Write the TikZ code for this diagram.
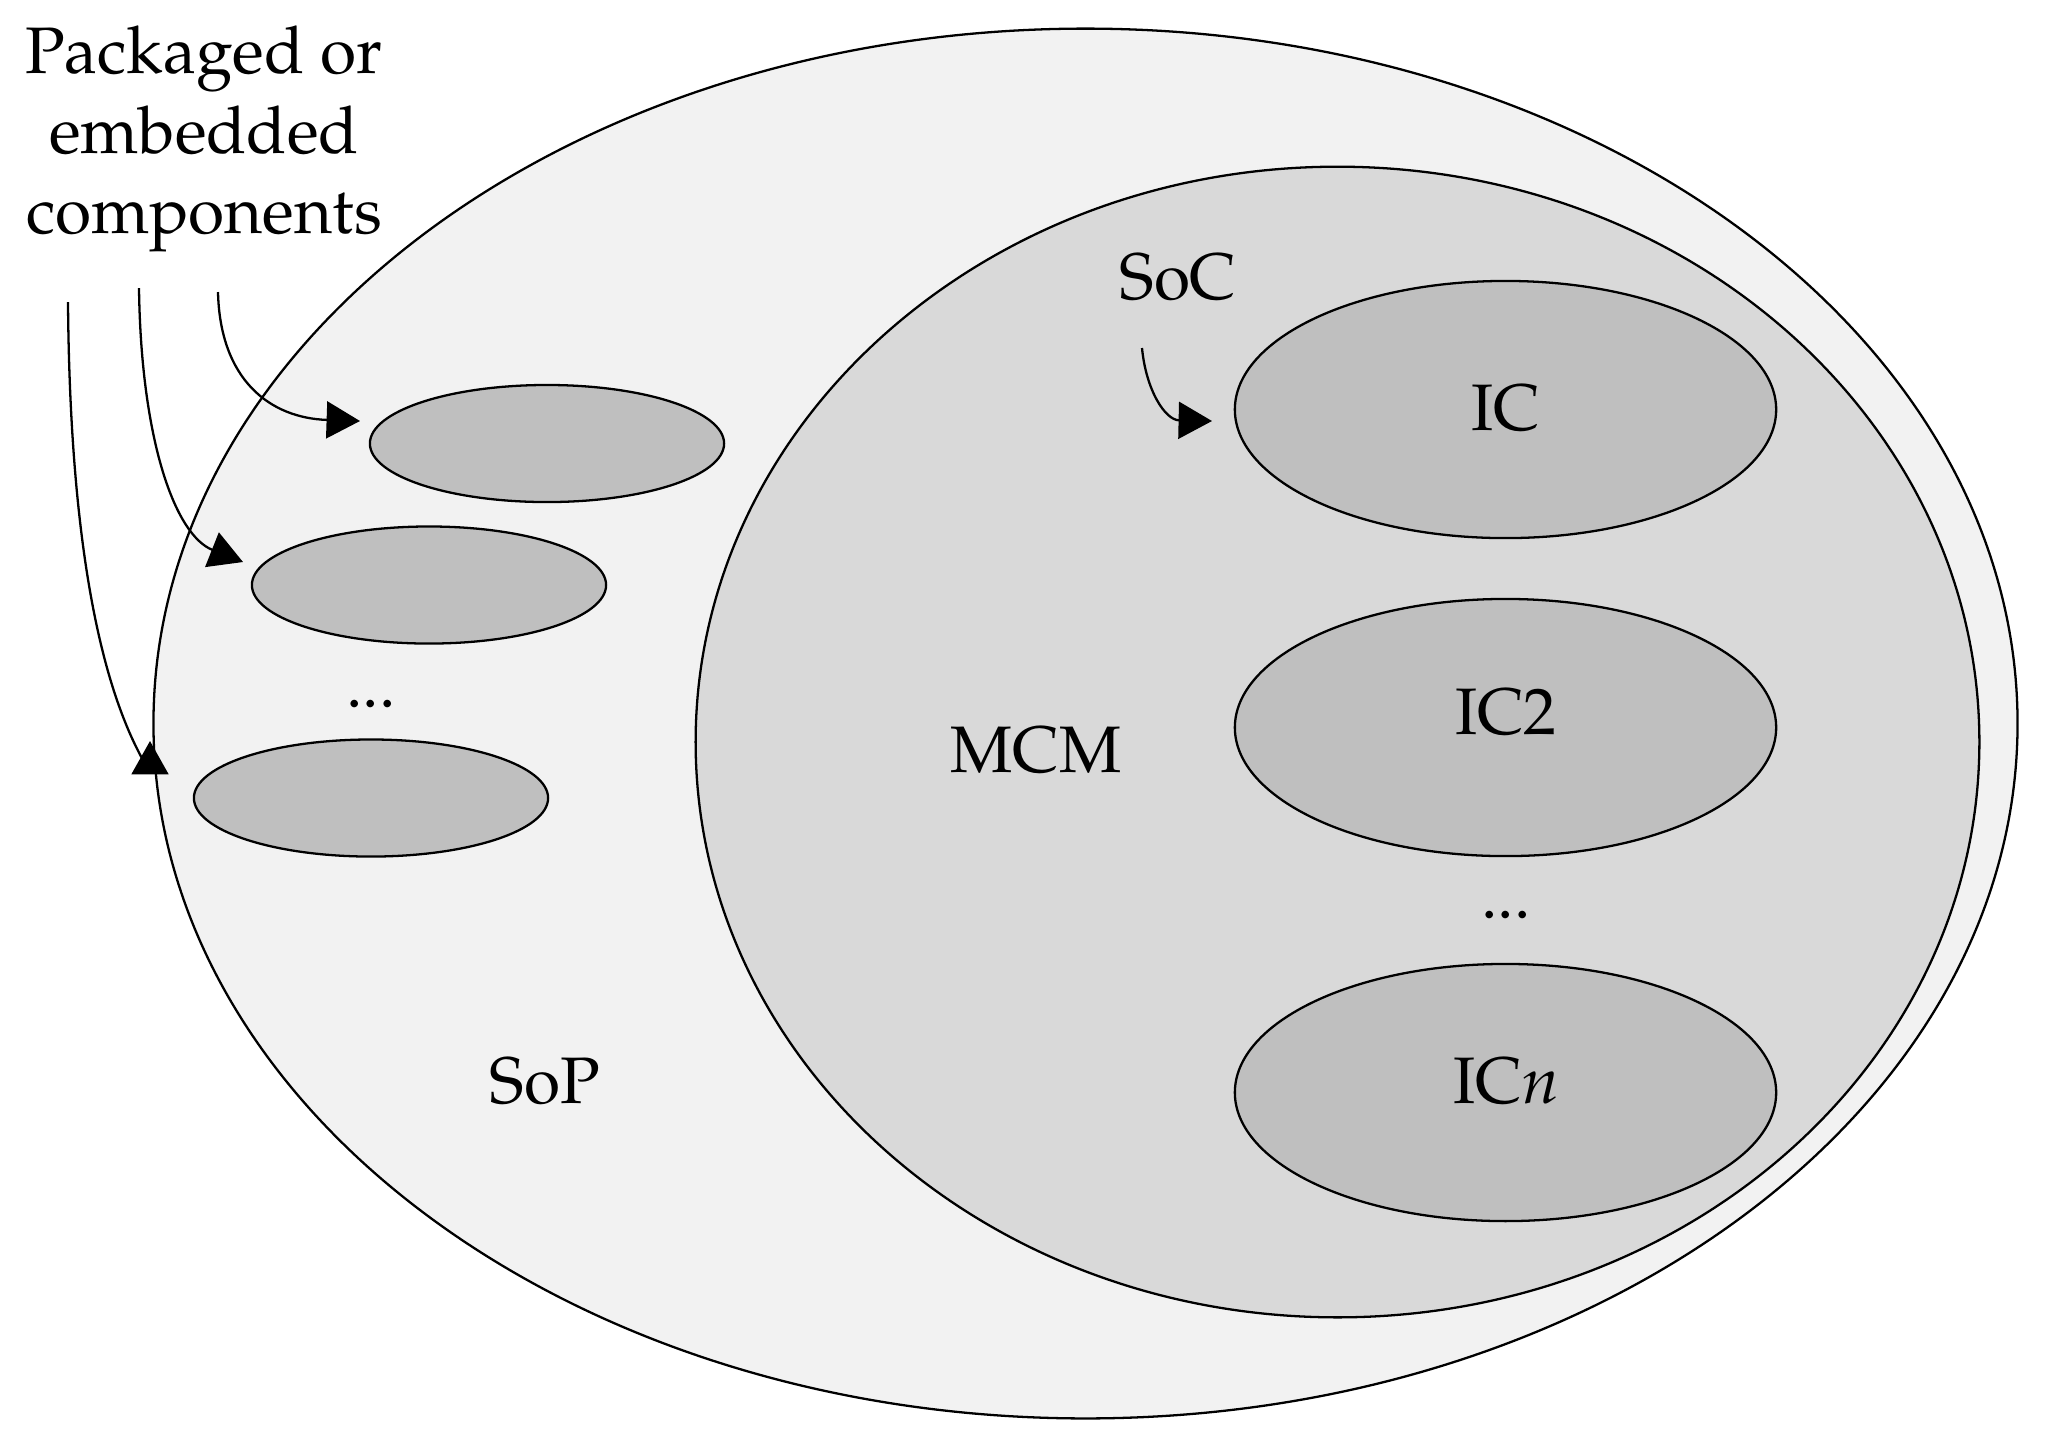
\documentclass[tikz,border=0pt]{standalone}
\usepackage[T1]{fontenc}
\usepackage{mathpazo}
\usetikzlibrary{shapes.geometric,arrows.meta}
\definecolor{sopfill}{HTML}{F2F2F2}
\definecolor{mcmfill}{HTML}{D9D9D9}
\definecolor{icfill}{HTML}{BFBFBF}
\begin{document}
\begin{tikzpicture}[x=0.01cm,y=-0.01cm,
  blob/.style={ellipse,draw,line width=0.65pt,inner sep=0pt,outer sep=0pt},
  icblob/.style={blob,fill=icfill,minimum width=5.41cm,minimum height=2.57cm},
  compblob/.style={blob,fill=icfill,minimum width=3.54cm,minimum height=1.17cm},
  txt/.style={font=\fontsize{18.7pt}{22.8pt}\selectfont,inner sep=0pt,anchor=base},
  arr/.style={line width=0.65pt,-{Triangle[length=9.5pt,width=10.5pt]}}]
\useasboundingbox (0,0) rectangle (2052,1450);
% ellipses
\node[blob,fill=sopfill,minimum width=18.63cm,minimum height=13.89cm] (sop) at (1085.5,723.5) {};
\node[blob,fill=mcmfill,minimum width=12.83cm,minimum height=11.5cm] (mcm) at (1337.5,742) {};
\node[icblob] (ic1) at (1505.5,409.5) {};
\node[icblob] (ic2) at (1505.5,727.5) {};
\node[icblob] (icn) at (1505.5,1092.5) {};
\node[compblob] (c1) at (547,443.5) {};
\node[compblob] (c2) at (429,585) {};
\node[compblob] (c3) at (371,798) {};
% labels
\node[font=\fontsize{18.7pt}{22.8pt}\selectfont,inner sep=0pt,align=center] (pkg) at (204,139) {Packaged or\\embedded\\components};
\node[txt] (soclbl) at (1178,299) {SoC};
\node[txt] (mcmlbl) at (1036,772) {MCM};
\node[txt] (soplbl) at (545,1103) {SoP};
\node[txt] (ic1lbl) at (1506,430) {IC};
\node[txt] (ic2lbl) at (1506,734) {IC2};
\node[txt] (icnlbl) at (1506,1103) {IC\textit{n}};
\node[txt] (dotsl) at (371,707) {...};
\node[txt] (dotsr) at (1506,918) {...};
% arrow ends
\coordinate (a1s) at (68,302);
\coordinate (a1b) at (150,772);
\coordinate (a1e) at (150,741);
\coordinate (a2s) at (139,288);
\coordinate (a2e) at (243,562);
\coordinate (a3s) at (218,292);
\coordinate (a3e) at (360,421);
\coordinate (a4s) at (1142,348);
\coordinate (a4e) at (1212,421);
% arrows
\draw[arr] (a1s) .. controls (70,560) and (105,700) .. (a1b) -- (a1e);
\draw[arr] (a2s) .. controls (141,440) and (175,535) .. (a2e);
\draw[arr] (a3s) .. controls (220,380) and (270,418) .. (a3e);
\draw[arr] (a4s) .. controls (1146,390) and (1165,420) .. (a4e);
\end{tikzpicture}
\end{document}
